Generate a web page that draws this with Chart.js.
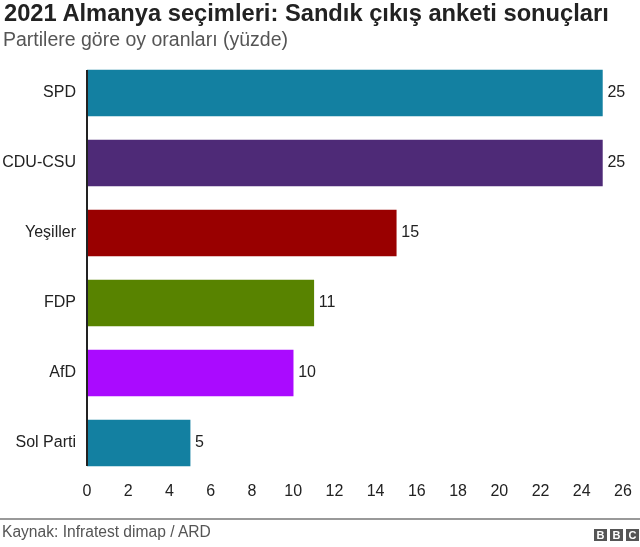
<!DOCTYPE html>
<html>
<head>
<meta charset="utf-8">
<script src="https://cdn.jsdelivr.net/npm/chart.js@4.4.1/dist/chart.umd.min.js"></script>
<style>
    body { margin: 0; background: #fff; font-family: "Liberation Sans", Arial, sans-serif; }
    #wrap { position: relative; width: 640px; height: 547px; overflow: hidden; }
    #chart { position: absolute; left: 0; top: 0; }
    .title { position: absolute; left: 4px; top: 0px; font-size: 23.7px; font-weight: bold; color: #222; white-space: nowrap; }
    .subtitle { position: absolute; left: 3px; top: 28px; font-size: 19.5px; color: #555; white-space: nowrap; }
    .rule { position: absolute; left: 0; top: 518px; width: 640px; height: 2px; background: #999; }
    .source { position: absolute; left: 2px; top: 523px; font-size: 15.6px; color: #555; white-space: nowrap; }
    .bbc { position: absolute; right: 1px; top: 529px; display: flex; gap: 3px; }
    .bbc span { width: 13px; height: 12px; background: #555; color: #fff; font-weight: bold;
        font-size: 11px; line-height: 12px; text-align: center; }
</style>
</head>
<body>
<div id="wrap">
    <canvas id="chart" width="640" height="547"></canvas>
    <div class="title">2021 Almanya seçimleri: Sandık çıkış anketi sonuçları</div>
    <div class="subtitle">Partilere göre oy oranları (yüzde)</div>
    <div class="rule"></div>
    <div class="source">Kaynak: Infratest dimap / ARD</div>
    <div class="bbc"><span>B</span><span>B</span><span>C</span></div>
</div>
<script>
// parties and exit poll shares
const parties = ['SPD', 'CDU-CSU', 'Yeşiller', 'FDP', 'AfD', 'Sol Parti'];
const shares = [25, 25, 15, 11, 10, 5];
const partyColors = ['#1380A1', '#4E2A77', '#990000', '#588300', '#AA0AFF', '#1380A1'];
const xTicks = [0, 2, 4, 6, 8, 10, 12, 14, 16, 18, 20, 22, 24, 26];

const fontFamily = '"Liberation Sans", Arial, sans-serif';

// value labels at the end of each bar
const valueLabels = {
    id: 'valueLabels',
    afterDatasetsDraw(chart) {
        const ctx = chart.ctx;
        const meta = chart.getDatasetMeta(0);
        ctx.save();
        ctx.font = '16px ' + fontFamily;
        ctx.fillStyle = '#222';
        ctx.textBaseline = 'middle';
        meta.data.forEach((bar, i) => {
            ctx.fillText(String(shares[i]), bar.x + 5, bar.y);
        });
        // axis line only as tall as the bars
        const first = meta.data[0], last = meta.data[meta.data.length - 1];
        ctx.strokeStyle = '#222';
        ctx.lineWidth = 2;
        ctx.beginPath();
        ctx.moveTo(chart.chartArea.left, first.y - first.height / 2);
        ctx.lineTo(chart.chartArea.left, last.y + last.height / 2);
        ctx.stroke();
        ctx.restore();
    }
};

new Chart(document.getElementById('chart'), {
    type: 'bar',
    data: {
        labels: parties,
        datasets: [{
            data: shares,
            backgroundColor: partyColors,
            barThickness: 46
        }]
    },
    options: {
        indexAxis: 'y',
        responsive: false,
        animation: false,
        layout: { padding: { top: 58, right: 17, bottom: 39, left: 0 } },
        plugins: { legend: { display: false }, tooltip: { enabled: false } },
        scales: {
            x: {
                min: 0, max: 26,
                afterBuildTicks: s => { s.ticks = xTicks.map(v => ({ value: v })); },
                afterFit: s => { s.height = 30; },
                grid: { display: false, drawTicks: false },
                border: { display: false },
                ticks: { padding: 4, color: '#222', font: { size: 16, family: fontFamily } }
            },
            y: {
                afterFit: s => { s.width = 87; },
                grid: { display: false, drawTicks: false },
                border: { display: false },
                ticks: { padding: 11, color: '#222', font: { size: 16, family: fontFamily } }
            }
        }
    },
    plugins: [valueLabels]
});
</script>
</body>
</html>
